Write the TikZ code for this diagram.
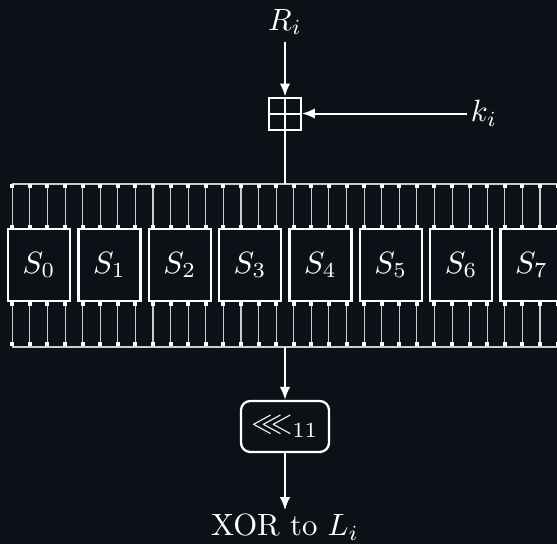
\documentclass[tikz,border=0pt]{standalone}
\usepackage{amssymb}
\usetikzlibrary{arrows.meta}
\definecolor{bg}{HTML}{0D1117}
\tikzset{
  conn/.style={draw=white, line width=0.65pt, -{Latex[length=4.2pt,width=3.4pt]}},
  plain/.style={draw=white, line width=0.65pt},
  wire/.style={draw=white!80!black, line width=0.35pt},
  pin/.style={fill=white, draw=none},
  sbox/.style={draw=white, line width=0.75pt, fill=bg, minimum width=62*0.325pt, minimum height=72*0.325pt, inner sep=0pt, text=white},
  lbl/.style={text=white, inner sep=1pt},
  addbox/.style={draw=white, line width=0.65pt, minimum size=32*0.325pt, inner sep=0pt},
  rotbox/.style={draw=white, line width=0.75pt, rounded corners=3pt, minimum width=88*0.325pt, minimum height=51*0.325pt, inner sep=0pt, text=white}
}
\begin{document}
\begin{tikzpicture}[x=0.325pt,y=-0.325pt]
\fill[bg] (0,0) rectangle (557,544);
\useasboundingbox (0,0) rectangle (557,544);
% labels and adder
\node[lbl] (rin) at (285,22) {$R_i$};
\node[addbox] (plus) at (285,113.5) {};
\draw[plain] (plus.north) -- (plus.south) (plus.west) -- (plus.east);
\node[lbl] (ki) at (484,113.5) {$k_i$};
\draw[conn, shorten <=1pt] (rin) -- (plus);
\draw[conn] (ki) -- (plus);
% bus
\coordinate (bustop) at (285,184);
\coordinate (busbot) at (285,347);
\draw[wire] (12.3,184) -- (560,184);
\draw[wire] (12.3,347) -- (560,347);
\foreach \k in {0,...,31}{
  \pgfmathsetmacro{\xx}{12.3+17.59*\k}
  \draw[wire] (\xx,186) -- (\xx,227);
  \draw[wire] (\xx,304) -- (\xx,344);
  \fill[pin] (\xx-2,184) rectangle (\xx+2,188);
  \fill[pin] (\xx-2,225) rectangle (\xx+2,229);
  \fill[pin] (\xx-2,302) rectangle (\xx+2,306);
  \fill[pin] (\xx-2,342) rectangle (\xx+2,346);
}
\foreach \i in {0,...,7}{
  \node[sbox] (s\i) at (39+70.36*\i,265) {$S_{\i}$};
}
\draw[plain] (plus) -- (bustop);
% rotation
\node[rotbox] (rot) at (285,426.5) {$\lll_{11}$};
\node[lbl] (out) at (285,527) {XOR to $L_i$};
\draw[conn] (busbot) -- (rot);
\draw[conn] (rot) -- (out);
\end{tikzpicture}
\end{document}
